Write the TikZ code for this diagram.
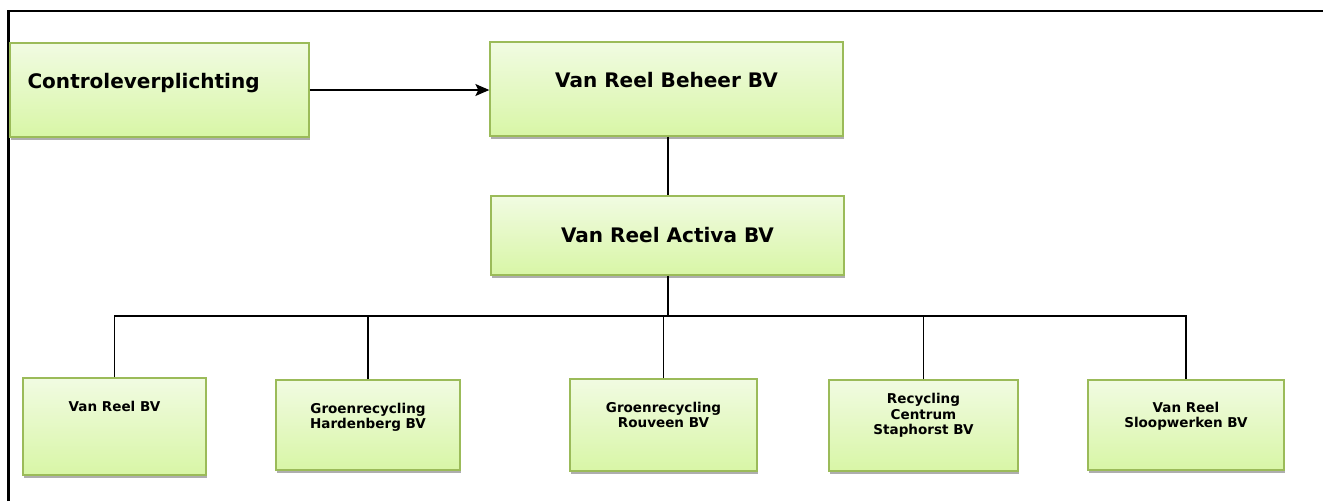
\documentclass[tikz,border=0pt]{standalone}
\usepackage{tikz}
\usetikzlibrary{arrows,arrows.meta,positioning,shadows}
\usepackage{fontspec}
\setmainfont{DejaVu Sans}
\definecolor{boxtop}{RGB}{241,251,226}
\definecolor{boxbot}{RGB}{216,246,166}
\definecolor{boxline}{RGB}{155,187,89}
\tikzstyle{boxy} = [rectangle, draw=boxline, line width=0.8pt, top color=boxtop,
bottom color=boxbot, drop shadow={shadow xshift=0.8pt, shadow yshift=-1.8pt,
fill=black!45, opacity=0.7}]
\tikzstyle{bigtext} = [font=\fontsize{11.4}{13}\selectfont\bfseries, align=center]
\tikzstyle{smalltext} = [font=\fontsize{7.7}{8.7}\selectfont\bfseries, align=center]
\tikzstyle{arrow} = [line width=0.8pt,->,>={Stealth[length=0.28cm,width=0.24cm,inset=0.06cm]}]
\tikzstyle{line} = [line width=0.9pt]

\begin{document}
\begin{tikzpicture}[x=0.02cm, y=-0.02cm]
        \useasboundingbox (0,0) rectangle (1323,501);
        \draw [line width=1.7pt] (8.5,501) -- (8.5,11) -- (1323,11);
        % top part
        \node (ctrl) [boxy, minimum width=5.98cm, minimum height=1.88cm,
        label={[bigtext, anchor=west, xshift=0.24cm, yshift=0.14cm]west:Controleverplichting}]
        at (159.5,90) {};
        \node (beheer) [boxy, minimum width=7.06cm, minimum height=1.88cm,
        label={[bigtext, yshift=0.18cm]center:Van Reel Beheer BV}] at (666.5,89) {};
        \node (activa) [boxy, minimum width=7.06cm, minimum height=1.58cm,
        label={[bigtext]center:Van Reel Activa BV}] at (667.5,235.5) {};
        % werkmaatschappijen
        \node (vr) [boxy, minimum width=3.66cm, minimum height=1.94cm,
        label={[smalltext, yshift=0.4cm]center:Van Reel BV}] at (114.5,426.5) {};
        \node (grh) [boxy, minimum width=3.68cm, minimum height=1.8cm,
        label={[smalltext, yshift=0.16cm]center:Groenrecycling\\Hardenberg BV}] at (368,425) {};
        \node (grr) [boxy, minimum width=3.74cm, minimum height=1.84cm,
        label={[smalltext, yshift=0.2cm]center:Groenrecycling\\Rouveen BV}] at (663.5,425) {};
        \node (rcs) [boxy, minimum width=3.78cm, minimum height=1.82cm,
        label={[smalltext, yshift=0.2cm]center:Recycling\\Centrum\\Staphorst BV}] at (923.5,425.5) {};
        \node (slp) [boxy, minimum width=3.92cm, minimum height=1.8cm,
        label={[smalltext, yshift=0.18cm]center:Van Reel\\Sloopwerken BV}] at (1186,425) {};
        \coordinate (bus) at (668,316);
        %
        \draw [arrow] (ctrl.east) -- (ctrl.east -| beheer.west);
        \draw [line] (beheer.south -| bus) -- (activa.north -| bus);
        \draw [line] (activa.south -| bus) -- (bus);
        \draw [line] (vr.north) |- (bus) -| (slp.north);
        \foreach \n in {grh,grr,rcs}
        \draw [line] (\n.north) -- (\n.north |- bus);
\end{tikzpicture}
\end{document}
